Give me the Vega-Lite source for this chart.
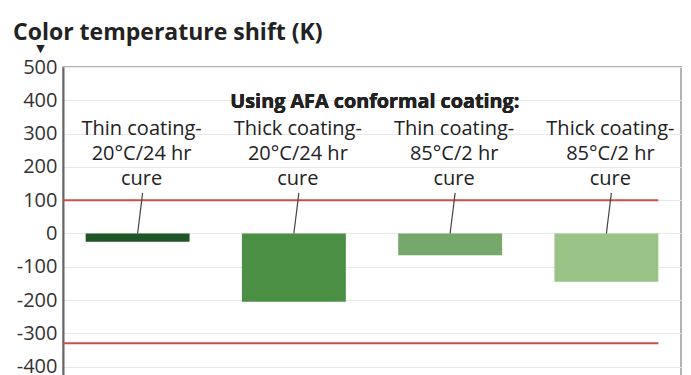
{
  "$schema": "https://vega.github.io/schema/vega-lite/v6.json",
  "width": 618,
  "height": 312,
  "autosize": "none",
  "padding": {"left": 63, "top": 67, "right": 10, "bottom": 0},
  "background": "white",
  "config": {
    "font": "Open Sans",
    "view": {"stroke": "#9a9a9a", "strokeWidth": 1.5},
    "text": {"lineBreak": "\n"}
  },
  "title": {
    "text": "Color temperature shift (K)",
    "anchor": "start",
    "frame": "group",
    "dx": -50,
    "offset": -3,
    "fontSize": 23,
    "fontWeight": "bold",
    "color": "#222",
    "font": "Open Sans"
  },
  "data": {
    "values": [
      {"group": "Thin 20", "shift": -25, "label": "Thin coating-\n20°C/24 hr\ncure"},
      {"group": "Thick 20", "shift": -205, "label": "Thick coating-\n20°C/24 hr\ncure"},
      {"group": "Thin 85", "shift": -65, "label": "Thin coating-\n85°C/2 hr\ncure"},
      {"group": "Thick 85", "shift": -145, "label": "Thick coating-\n85°C/2 hr\ncure"}
    ]
  },
  "layer": [
    {
      "mark": {"type": "bar"},
      "encoding": {
        "x": {
          "field": "group",
          "type": "nominal",
          "sort": null,
          "scale": {"paddingInner": 0.335, "paddingOuter": 0.145},
          "axis": null
        },
        "y": {
          "field": "shift",
          "type": "quantitative",
          "scale": {"domain": [-437, 500], "nice": false},
          "axis": {
            "tickCount": 10,
            "title": "▼",
            "titleAngle": 0,
            "titleX": -23,
            "titleY": -19,
            "titleFont": "DejaVu Sans",
            "titleFontSize": 11,
            "titleFontWeight": "normal",
            "titleColor": "#222",
            "titleAlign": "center",
            "titleBaseline": "middle",
            "labelFontSize": 20,
            "labelColor": "#333",
            "labelPadding": 6,
            "labelOverlap": false,
            "labelFlush": false,
            "labelExpr": "replace(datum.label, '−', '-')",
            "ticks": false,
            "domainColor": "#666",
            "domainWidth": 2,
            "gridColor": "#e8e8e8",
            "gridWidth": 1
          }
        },
        "y2": {"datum": 0},
        "color": {
          "field": "group",
          "type": "nominal",
          "sort": null,
          "scale": {"range": ["#1f5527", "#4b8f45", "#76a86b", "#9ac387"]},
          "legend": null
        }
      }
    },
    {
      "mark": {"type": "rule", "color": "#c9504a", "strokeWidth": 2, "xOffset": -23},
      "data": {"values": [{"limit": 100}, {"limit": -330}]},
      "encoding": {
        "x": {"datum": "Thin 20", "bandPosition": 0},
        "x2": {"datum": "Thick 85", "bandPosition": 1},
        "y": {"field": "limit", "type": "quantitative"}
      }
    },
    {
      "mark": {"type": "rule", "color": "#444", "strokeWidth": 1.2, "x2Offset": 5},
      "encoding": {
        "x": {"field": "group", "type": "nominal", "sort": null, "bandPosition": 0.5},
        "x2": {"field": "group", "bandPosition": 0.5},
        "y": {"datum": 0},
        "y2": {"datum": 122}
      }
    },
    {
      "mark": {"type": "text", "baseline": "top", "align": "center", "fontSize": 20, "lineHeight": 25, "color": "#222", "dx": 4},
      "encoding": {
        "x": {"field": "group", "type": "nominal", "sort": null, "bandPosition": 0.5},
        "y": {"datum": 345},
        "text": {"field": "label"}
      }
    },
    {
      "mark": {"type": "text", "baseline": "middle", "align": "center", "fontSize": 19.8, "fontWeight": "bold", "color": "#222", "dx": 81},
      "encoding": {
        "x": {"datum": "Thick 20", "bandPosition": 0.5},
        "y": {"datum": 395},
        "text": {"value": "Using AFA conformal coating:"}
      }
    }
  ]
}
